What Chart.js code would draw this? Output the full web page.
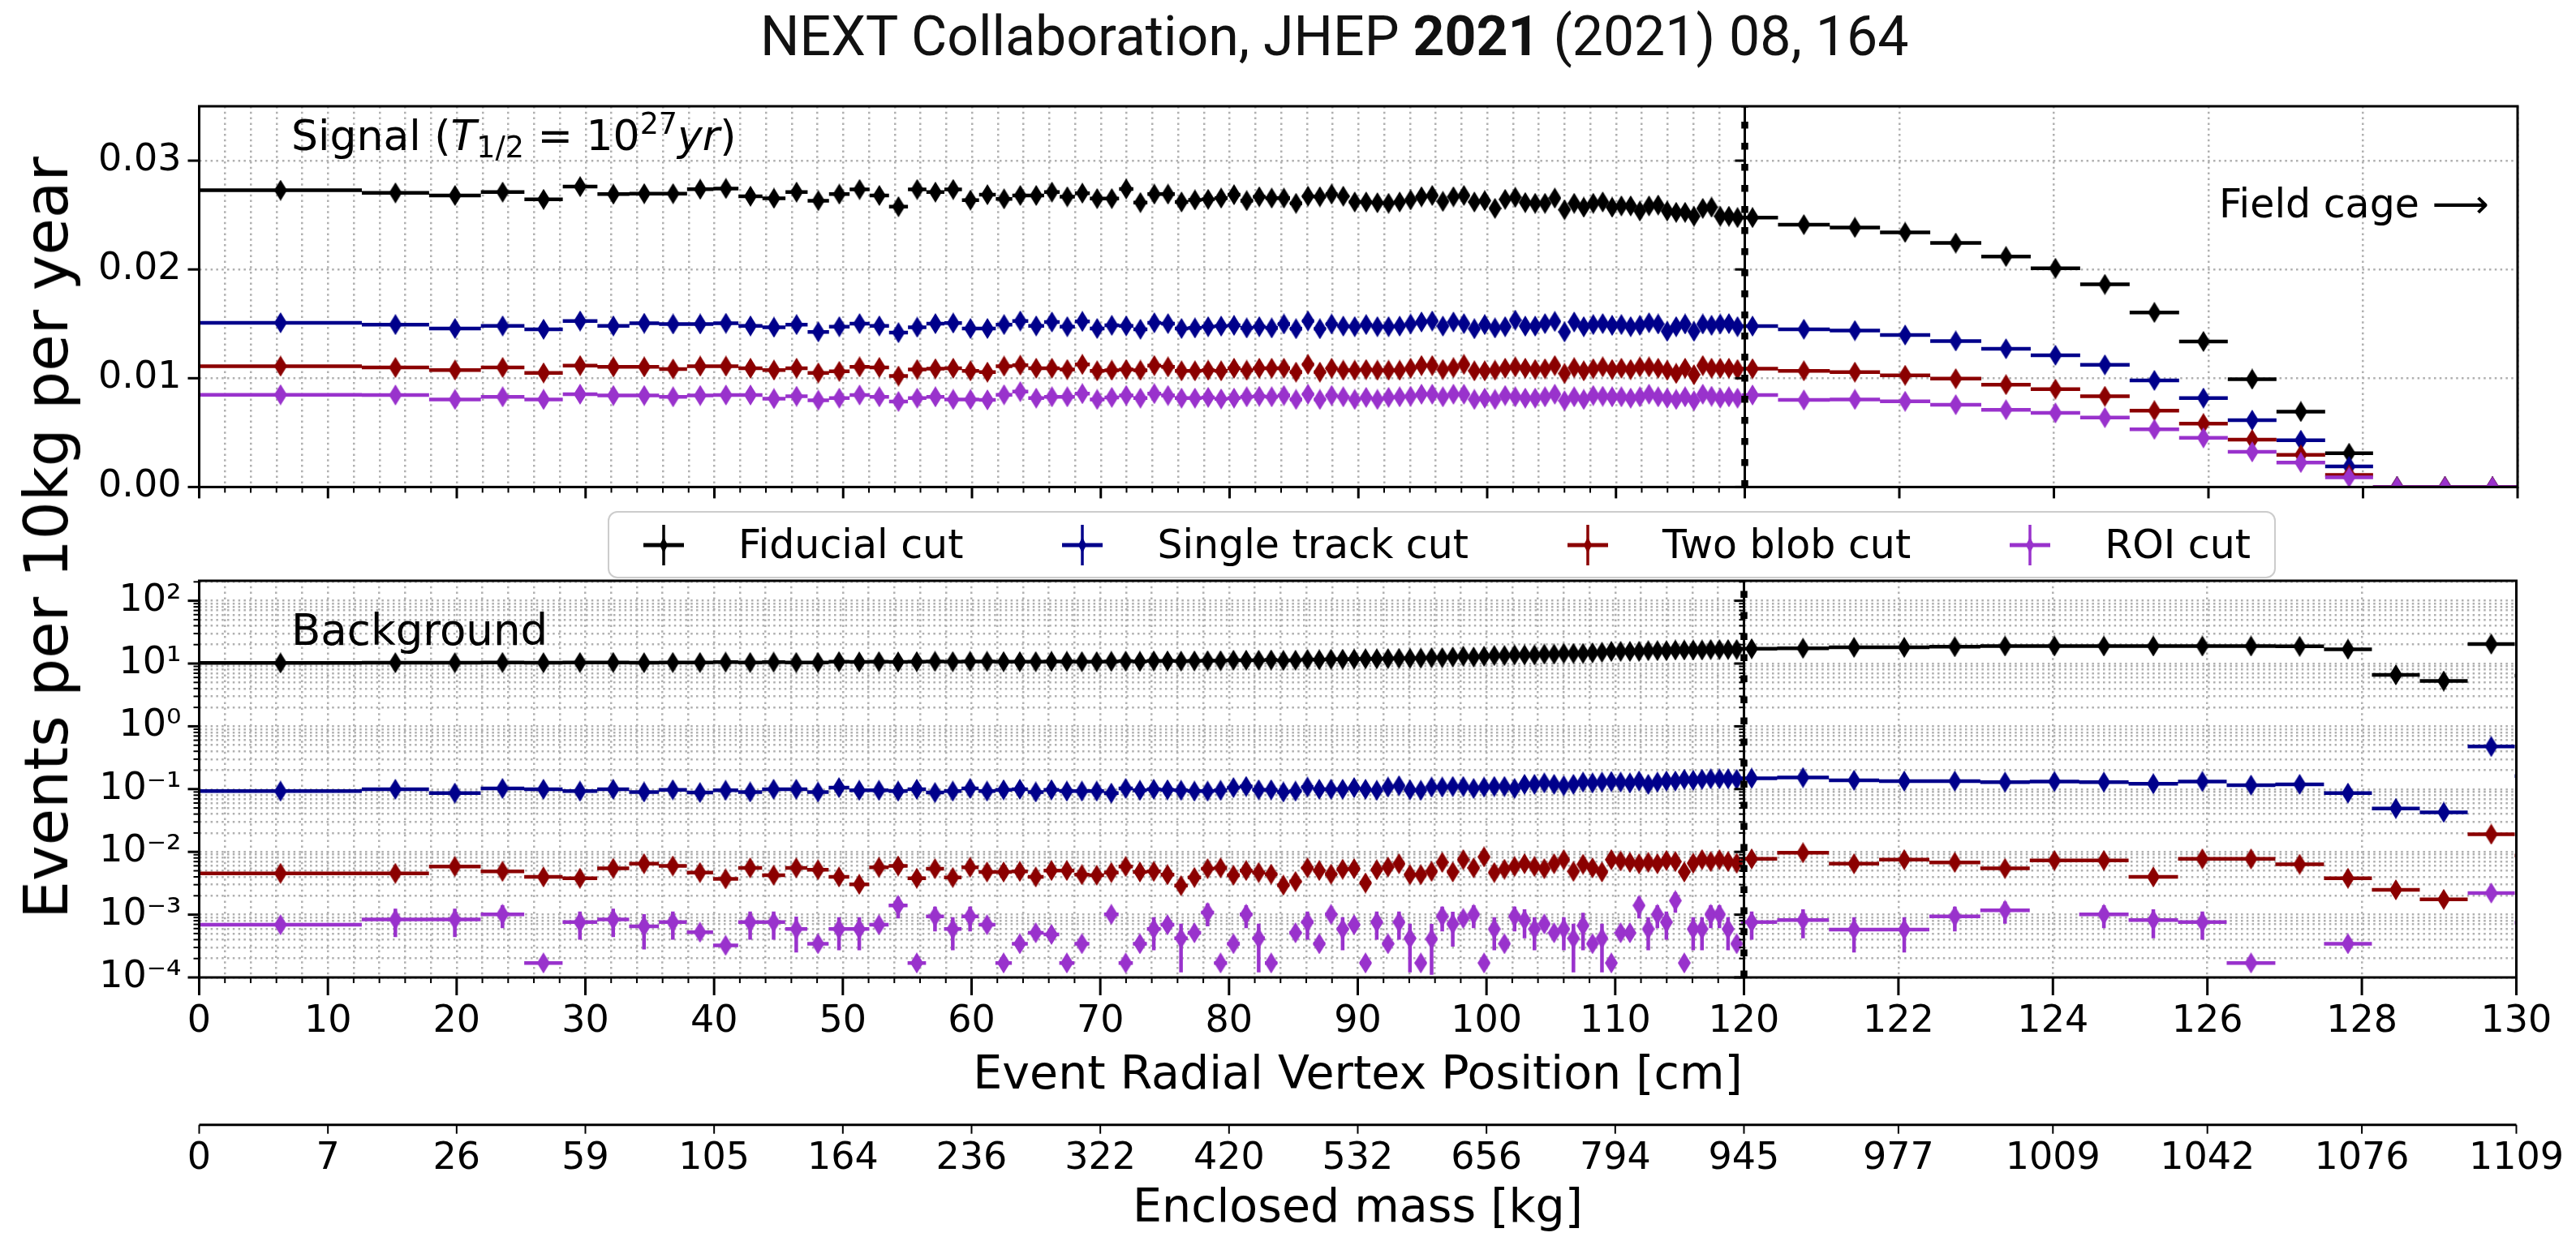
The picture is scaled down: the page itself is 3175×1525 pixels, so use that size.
<!DOCTYPE html>
<html>
<head>
<meta charset="utf-8">
<script src="https://cdn.jsdelivr.net/npm/chart.js@4.4.1/dist/chart.umd.min.js"></script>
<style>
  html, body { margin: 0; padding: 0; background: #fff; }
  body { width: 3175px; height: 1525px; position: relative; overflow: hidden; font-family: 'DejaVu Sans', sans-serif; color: #000; }
  .abs { position: absolute; white-space: nowrap; line-height: 1; }
  canvas.chart { position: absolute; left: 0; }
  #title { left: 937px; top: 11px; font-family: Roboto, sans-serif; font-size: 68px; color: #111; }
  #ylabel { left: 57px; top: 663px; font-size: 74px; transform: translate(-50%, -50%) rotate(-90deg); }
  #sigNote { left: 359px; top: 141px; font-size: 52px; }
  #bkgNote { left: 359px; top: 750px; font-size: 53px; }
  #cageNote { left: 2735px; top: 227px; font-size: 49px; }
  sub { font-size: 0.7em; vertical-align: -0.25em; line-height: 0; }
  sup { font-size: 0.7em; vertical-align: 0.55em; line-height: 0; }
  #legend { position: absolute; left: 749px; top: 630px; width: 2056px; height: 83px; box-sizing: border-box;
            border: 2px solid #cccccc; border-radius: 12px; background: rgba(255,255,255,0.85);
            display: flex; align-items: center; padding-left: 42px; gap: 122px; font-size: 49px; z-index: 5; }
  .item { display: flex; align-items: center; }
  .item canvas { margin-right: 67px; }
</style>
</head>
<body>
<div id="title" class="abs">NEXT Collaboration, JHEP <b>2021</b> (2021) 08, 164</div>
<canvas id="sig" class="chart" width="3175" height="650" style="top:0"></canvas>
<canvas id="bkg" class="chart" width="3175" height="905" style="top:620px"></canvas>
<div id="ylabel" class="abs">Events per 10kg per year</div>
<div id="sigNote" class="abs">Signal (<i>T</i><sub>1/2</sub> = 10<sup>27</sup><i>yr</i>)</div>
<div id="bkgNote" class="abs">Background</div>
<div id="cageNote" class="abs">Field cage &#x27F6;</div>
<div id="legend"></div>
<script>
// radial bin edges in cm (equal enclosed mass per bin)
const binEdges = [0, 12.63, 17.85, 21.87, 25.25, 28.23, 30.92, 33.40, 35.71, 37.88,
  39.92, 41.87, 43.73, 45.52, 47.24, 48.90, 50.50, 52.05, 53.56, 55.03,
  56.46, 57.86, 59.22, 60.55, 61.85, 63.13, 64.37, 65.60, 66.81, 67.99,
  69.15, 70.29, 71.42, 72.53, 73.62, 74.69, 75.75, 76.79, 77.83, 78.84,
  79.85, 80.84, 81.82, 82.79, 83.75, 84.69, 85.63, 86.55, 87.47, 88.38,
  89.27, 90.16, 91.04, 91.91, 92.78, 93.63, 94.48, 95.32, 96.15, 96.97,
  97.79, 98.60, 99.41, 100.21, 101.00, 101.79, 102.57, 103.34, 104.11, 104.87,
  105.63, 106.38, 107.13, 107.87, 108.60, 109.34, 110.06, 110.78, 111.50, 112.21,
  112.92, 113.63, 114.32, 115.02, 115.71, 116.40, 117.08, 117.76, 118.43, 119.10,
  119.77, 120.43, 121.10, 121.75, 122.40, 123.06, 123.70, 124.34, 124.98, 125.62,
  126.25, 126.88, 127.51, 128.13, 128.75, 129.37, 129.98, 130.59];

const breakAt = 120;   // fiducial edge, axis is stretched beyond it
const stretch = 6;     // 1 cm past the edge gets the room of 6 cm before it
const radialTicks = [0, 10, 20, 30, 40, 50, 60, 70, 80, 90, 100, 110, 120, 122, 124, 126, 128, 130];
const massLabels = ['0', '7', '26', '59', '105', '164', '236', '322', '420', '532', '656', '794', '945',
  '977', '1009', '1042', '1076', '1109'];
const sigTicks = [0, 0.01, 0.02, 0.03];
const sigRange = [0, 0.035];
const bkgRange = [1e-4, 208];

const seriesNames = ['Fiducial cut', 'Single track cut', 'Two blob cut', 'ROI cut'];
const seriesColors = ['#000000', '#00008b', '#8b0000', '#9932cc'];

// signal, events per 10 kg per year
const sigFiducial = [0.02728, 0.02704, 0.0268, 0.02711, 0.02644, 0.02761, 0.02692, 0.02697, 0.02697, 0.02737, 0.02744, 0.02673, 0.02654, 0.02711,
  0.02632, 0.02692, 0.02735, 0.0268, 0.02577, 0.02735, 0.02711, 0.02735, 0.02637, 0.02687, 0.02649, 0.0268, 0.0268, 0.02711, 0.02668, 0.02701,
  0.02651, 0.02651, 0.0274, 0.02615, 0.02692, 0.02692, 0.0262, 0.02639, 0.02644, 0.02656, 0.02687, 0.02632, 0.02668, 0.02656, 0.02656, 0.02608,
  0.02673, 0.02668, 0.02692, 0.02673, 0.0262, 0.0262, 0.02613, 0.02608, 0.0262, 0.02639, 0.02668,
  0.0268, 0.02625, 0.02668, 0.0268, 0.0262, 0.02632, 0.02561, 0.02644, 0.02663, 0.02615, 0.02608, 0.02608, 0.02656, 0.02549, 0.02608, 0.02572,
  0.02608, 0.0262, 0.02572, 0.02584, 0.02584, 0.02537, 0.02584, 0.02592, 0.02537, 0.02525, 0.02525, 0.02489, 0.02561, 0.02572, 0.02489, 0.02489, 0.02477,
  0.02477, 0.02412, 0.02386, 0.02341, 0.02243, 0.02119, 0.02011, 0.01863, 0.01605, 0.01338, 0.00991, 0.00693, 0.00311, 0, 0, 0, 0];
const sigSingle = [0.0151, 0.01493, 0.01457, 0.01481, 0.0145, 0.01526, 0.01481, 0.01505, 0.01498, 0.01498, 0.01505, 0.01481, 0.01469, 0.01493,
  0.01426, 0.01474, 0.01502, 0.01481, 0.01419, 0.01469, 0.01502, 0.01507, 0.01457, 0.01457, 0.01493, 0.01526, 0.01481, 0.01517, 0.01474, 0.01522,
  0.01457, 0.01486, 0.01481, 0.0145, 0.0151, 0.01502, 0.01457, 0.01462, 0.01474, 0.01479, 0.01486, 0.01462, 0.01474, 0.01462, 0.01498, 0.01455,
  0.01526, 0.01455, 0.01498, 0.01479, 0.01474, 0.01493, 0.01474, 0.01474, 0.01479, 0.01498, 0.01517,
  0.01526, 0.01479, 0.01517, 0.01502, 0.01455, 0.01493, 0.01462, 0.01474, 0.01534, 0.01479, 0.01479, 0.01502, 0.01522, 0.01426, 0.01517, 0.01474,
  0.01493, 0.01502, 0.01486, 0.01493, 0.01474, 0.01486, 0.0151, 0.01498, 0.01431, 0.01474, 0.01498, 0.01431, 0.01498, 0.01486, 0.01498, 0.01502, 0.01474,
  0.01479, 0.0145, 0.01438, 0.01397, 0.01342, 0.01271, 0.01211, 0.01123, 0.0098, 0.00818, 0.00614, 0.0043, 0.00189, 0, 0, 0, 0];
const sigBlob = [0.01111, 0.01099, 0.01075, 0.01099, 0.01049, 0.01116, 0.01104, 0.01104, 0.01085, 0.01111, 0.01111, 0.01092, 0.01075, 0.01092,
  0.01049, 0.01063, 0.01104, 0.01099, 0.0102, 0.0108, 0.01087, 0.01092, 0.01068, 0.01056, 0.01111, 0.0112, 0.01092, 0.01092, 0.0108, 0.01127,
  0.01068, 0.01073, 0.0108, 0.01073, 0.01116, 0.01104, 0.01068, 0.01068, 0.01073, 0.01068, 0.01092, 0.01073, 0.01092, 0.01092, 0.01092, 0.01056,
  0.01127, 0.01056, 0.01092, 0.01073, 0.01073, 0.0108, 0.01073, 0.01073, 0.01073, 0.01092, 0.01116,
  0.01116, 0.0108, 0.01097, 0.01127, 0.01068, 0.01068, 0.01073, 0.01092, 0.01104, 0.01092, 0.0108, 0.01087, 0.01116, 0.01044, 0.01097, 0.01068,
  0.01087, 0.01104, 0.0108, 0.01092, 0.0108, 0.01104, 0.01104, 0.01092, 0.01073, 0.01044, 0.01092, 0.01032, 0.01116, 0.01092, 0.01092, 0.01092, 0.0108,
  0.01087, 0.01068, 0.01056, 0.01027, 0.00996, 0.00941, 0.009, 0.00834, 0.00702, 0.00583, 0.00435, 0.00296, 0.00112, 0, 0, 0, 0];
const sigRoi = [0.00848, 0.00846, 0.00805, 0.00829, 0.00805, 0.00853, 0.00841, 0.00841, 0.00829, 0.00841, 0.00846, 0.00846, 0.00812, 0.00834,
  0.00798, 0.00817, 0.00846, 0.00829, 0.00786, 0.00817, 0.00829, 0.00805, 0.00805, 0.00801, 0.00848, 0.00877, 0.00817, 0.00829, 0.00829, 0.00858,
  0.00805, 0.00824, 0.00841, 0.00817, 0.00858, 0.00841, 0.00817, 0.00817, 0.00824, 0.0081, 0.00817, 0.00829, 0.00834, 0.00829, 0.00841, 0.00805,
  0.00853, 0.00805, 0.00841, 0.00829, 0.00805, 0.00824, 0.00805, 0.00824, 0.00829, 0.00834, 0.00853,
  0.00853, 0.00829, 0.00853, 0.00853, 0.00805, 0.00817, 0.00805, 0.00841, 0.00829, 0.00817, 0.00817, 0.00829, 0.00853, 0.00793, 0.00829, 0.00805,
  0.00841, 0.00834, 0.00829, 0.00829, 0.00817, 0.00829, 0.00853, 0.00829, 0.00817, 0.00805, 0.00829, 0.00793, 0.00853, 0.00834, 0.00817, 0.00829, 0.00817,
  0.00846, 0.008, 0.00805, 0.00788, 0.00757, 0.0071, 0.00681, 0.00638, 0.0053, 0.00452, 0.00323, 0.00225, 0.00089, 0, 0, 0, 0];

// background, events per 10 kg per year (null = no entry)
const bkgFiducial = [10.2, 10.3, 10.3, 10.4, 10.3, 10.4, 10.4, 10.3, 10.4, 10.4, 10.5, 10.4, 10.5, 10.4,
  10.4, 10.7, 10.6, 10.7, 10.6, 10.7, 10.8, 10.7, 10.8, 10.8, 10.7, 10.7, 10.7, 10.8, 10.8, 10.7, 10.7, 10.8, 10.9, 10.8,
  11.0, 11.0, 10.9, 11.0, 11.1, 11.1, 11.3, 11.3, 11.3, 11.4, 11.2, 11.3, 11.6, 11.5, 11.7, 11.7, 11.8, 11.9, 11.9, 12.0, 12.1, 12.1, 12.2,
  12.4, 12.4, 12.7, 13.1, 12.7, 13.1, 13.4, 13.4, 13.7, 13.7, 13.7, 14.1, 14.1, 14.5, 14.5, 14.5, 14.8, 15.1, 15.6, 15.6, 15.6, 15.6,
  16.0, 16.0, 16.0, 16.4, 16.4, 16.4, 16.4, 16.7, 16.7, 16.7, 16.7,
  17.2, 17.5, 18.1, 18.1, 18.5, 19.0, 19.0, 19.0, 19.0, 19.0, 19.0, 18.8, 16.9, 6.6, 5.26, 20.4, 6.4];
const bkgSingle = [0.0927, 0.0993, 0.0864, 0.1024, 0.0993, 0.0927, 0.0993, 0.0899, 0.0975, 0.0881, 0.0955, 0.0899, 0.0993, 0.0993,
  0.0899, 0.1057, 0.0955, 0.0955, 0.0927, 0.0993, 0.0881, 0.0927, 0.1024, 0.0927, 0.0975, 0.0993, 0.0899, 0.0975, 0.0927, 0.0927,
  0.0927, 0.0863, 0.1024, 0.0955, 0.0993, 0.0975, 0.0955, 0.0927, 0.0927, 0.0955, 0.1057, 0.110, 0.0975, 0.0975, 0.0899, 0.0927,
  0.1077, 0.0993, 0.0993, 0.0993, 0.1057, 0.0993, 0.0955, 0.1077, 0.1132, 0.0975, 0.0955,
  0.1077, 0.1077, 0.110, 0.110, 0.1024, 0.1077, 0.110, 0.110, 0.1024, 0.119, 0.119, 0.1253, 0.119, 0.1132, 0.119, 0.129,
  0.1253, 0.129, 0.1318, 0.129, 0.1253, 0.1345, 0.119, 0.129, 0.1345, 0.1345, 0.1427, 0.1384, 0.1427, 0.1456, 0.1456, 0.1456, 0.1427,
  0.1486, 0.153, 0.138, 0.134, 0.134, 0.129, 0.132, 0.129, 0.1216, 0.132, 0.1156, 0.119, 0.0863, 0.0492, 0.0427, 0.476, 0.161];
const bkgBlob = [0.00455, 0.00455, 0.00585, 0.00489, 0.00399, 0.0038, 0.00546, 0.00648, 0.00597, 0.00469, 0.00372, 0.00556, 0.00424, 0.00556,
  0.00519, 0.00399, 0.00304, 0.00568, 0.00597, 0.0038, 0.0054, 0.00391, 0.00568, 0.00479, 0.00479, 0.00489, 0.00399, 0.00504, 0.00504, 0.00433,
  0.00424, 0.00469, 0.00585, 0.00479, 0.00489, 0.00433, 0.0029, 0.00391, 0.0054, 0.00556, 0.00424, 0.00504, 0.00469, 0.00442,
  0.00295, 0.00337, 0.00556, 0.00504, 0.00442, 0.00529, 0.0054, 0.0032, 0.00519, 0.00573, 0.00647, 0.00433, 0.00433,
  0.00489, 0.0068, 0.00479, 0.00752, 0.00556, 0.00832, 0.00469, 0.00529, 0.00585, 0.00647, 0.00585, 0.0054, 0.00647, 0.00752, 0.00489, 0.00634,
  0.00556, 0.00479, 0.00752, 0.00715, 0.0068, 0.00647, 0.0068, 0.00647, 0.0073, 0.00701, 0.00479, 0.00659, 0.00752, 0.00701, 0.00752, 0.00701, 0.00659,
  0.00774, 0.00966, 0.00647, 0.00752, 0.0068, 0.00545, 0.0073, 0.0073, 0.00399, 0.00774, 0.00774, 0.00634, 0.0038, 0.00249, 0.00175, 0.0191, 0.00875];
const bkgRoi = [0.00069, 0.00084, 0.00084, 0.00101, 0.00017, 0.00076, 0.00084, 0.00065, 0.00076, 0.000525, 0.000324, 0.00076, 0.00076, 0.00059,
  0.000344, 0.00059, 0.00059, 0.00069, 0.0014, 0.00017, 0.00094, 0.00059, 0.00094, 0.00069,
  0.00017, 0.000344, 0.000514, 0.000484, 0.00017, 0.000344, null, 0.00101, 0.00017, 0.000344,
  0.00059, 0.00069, 0.00042, 0.000514, 0.00108, 0.00017, 0.000344, 0.00101, 0.00042, 0.00017,
  null, 0.000514, 0.00076, 0.000344, 0.00101, 0.00059, 0.00069, 0.00017, 0.00076, 0.000344, 0.00076, 0.00042, 0.00017,
  0.00041, 0.00094, 0.00071, 0.00087, 0.00101, 0.00017, 0.00059, 0.000344, 0.00094, 0.00082, 0.00059, 0.00071, 0.000514, 0.00059, 0.00042, 0.00067,
  0.000344, 0.00042, 0.00017, 0.000514, 0.000514, 0.0014, 0.00059, 0.00101, 0.00076, 0.00167, 0.00017, 0.00059, 0.00059, 0.00101, 0.00101, 0.00059, 0.000344,
  0.00076, 0.00082, 0.00058, 0.00058, 0.00094, 0.00117, null, 0.00101, 0.00082, 0.00076, 0.00017, null, 0.000344, null, null, 0.00221, 0.000747];
const bkgRoiErr = [0, 0.0004, 0.0004, 0.0004, 0, 0.00036, 0.0004, 0.00037, 0.00036, 0, 0, 0.00036, 0.00036, 0.00034,
  0, 0.00032, 0.00032, 0, 0.00053, 0, 0.0004, 0.00032, 0.0004, 0,
  0, 0, 0, 0, 0, 0, 0, 0, 0, 0,
  0.00032, 0, 0.0003, 0, 0.00043, 0, 0, 0.0004, 0.0003, 0,
  0, 0, 0.00036, 0, 0, 0.00032, 0, 0, 0.00036, 0, 0.00036, 0.0003, 0,
  0.0003, 0.0004, 0.0004, 0, 0.0004, 0, 0.00032, 0, 0.0004, 0.0004, 0.00032, 0, 0, 0.00032, 0.0003, 0.0004,
  0, 0.0003, 0, 0, 0, 0.00053, 0.00032, 0.0004, 0.00036, 0.0006, 0, 0.00032, 0.00032, 0.0004, 0.0004, 0.00032, 0,
  0.00036, 0.0004, 0.00033, 0.00033, 0.0004, 0.00045, 0, 0.0004, 0.0004, 0.00036, 0, 0, 0, 0, 0, 0, 0];

// ---- radial axis that is linear up to breakAt and stretched after it
const warp = r => r <= breakAt ? r : breakAt + stretch * (r - breakAt);
const unwarp = u => u <= breakAt ? u : breakAt + (u - breakAt) / stretch;
const LinearScale = Chart.registry.getScale('linear');
class BrokenScale extends LinearScale {
  getPixelForValue(v) {
    if (v === null || v === undefined) return NaN;
    const a = warp(this.min), b = warp(this.max);
    return this.getPixelForDecimal((warp(v) - a) / (b - a));
  }
  getValueForPixel(p) {
    const a = warp(this.min), b = warp(this.max);
    return unwarp(a + this.getDecimalForPixel(p) * (b - a));
  }
}
BrokenScale.id = 'broken';
BrokenScale.defaults = {};
Chart.register(BrokenScale);

Chart.defaults.font.family = "'DejaVu Sans', sans-serif";
Chart.defaults.font.size = 46;
Chart.defaults.color = '#000';

const gridColor = '#b0b0b0';
const gridDash = [2.5, 4.3];
const supMap = {'-': '\u207B', '0': '\u2070', '1': '\u00B9', '2': '\u00B2', '3': '\u00B3', '4': '\u2074',
  '5': '\u2075', '6': '\u2076', '7': '\u2077', '8': '\u2078', '9': '\u2079'};
const sup = n => String(n).split('').map(c => supMap[c]).join('');

function diamond(color, w, h) {
  const c = document.createElement('canvas');
  c.width = w; c.height = h;
  const g = c.getContext('2d');
  g.fillStyle = color;
  g.beginPath();
  g.moveTo(w / 2, 0); g.lineTo(w, h / 2); g.lineTo(w / 2, h); g.lineTo(0, h / 2);
  g.closePath(); g.fill();
  return c;
}

function lineSet(data, color, width, order, dash) {
  return { type: 'line', data: data, borderColor: color, borderWidth: width, borderDash: dash || [],
    borderCapStyle: 'butt', pointRadius: 0, fill: false, tension: 0, spanGaps: false, clip: 0, order: order };
}

function buildPanel(series, errs, yRange) {
  const sets = [];
  series.forEach((values, s) => {
    const color = seriesColors[s];
    const bars = [], marks = [], vbars = [];
    values.forEach((v, i) => {
      if (v === null) return;
      const lo = binEdges[i], hi = binEdges[i + 1], c = (lo + hi) / 2;
      bars.push({x: lo, y: v}, {x: hi, y: v}, {x: hi, y: null});
      marks.push({x: c, y: v});
      const e = errs[s] ? errs[s][i] : 0;
      if (e) vbars.push({x: c, y: v - e}, {x: c, y: v + e}, {x: c, y: null});
    });
    const base = (3 - s) * 3;
    sets.push(lineSet(bars, color, 4.5, base + 2));
    if (vbars.length) sets.push(lineSet(vbars, color, 4.5, base + 1));
    sets.push({ type: 'line', data: marks, showLine: false, pointStyle: diamond(color, 16, 26),
      pointRadius: 6, clip: 0, order: base });
  });
  // dashed marker of the fiducial edge
  sets.push(lineSet([{x: breakAt, y: yRange[0]}, {x: breakAt, y: yRange[1]}], '#000', 8.5, -1, [8.5, 17.5]));
  return sets;
}

const gridValues = [];
for (let r = 0; r <= 130; r += 2) gridValues.push(r);

function radialAxis(extra) {
  return Object.assign({
    type: 'broken', min: 0, max: 130, position: 'bottom',
    afterBuildTicks: s => { s.ticks = gridValues.map(v => ({value: v, big: radialTicks.includes(v)})); },
    grid: { color: gridColor, lineWidth: 2.5, drawTicks: false },
    border: { display: false, dash: gridDash },
    ticks: { autoSkip: false, maxRotation: 0, padding: 27,
      callback: v => radialTicks.includes(v) ? String(v) : '' }
  }, extra);
}

// frame, tick marks and the second spine at the break
function framePlugin(spec) {
  return {
    id: 'frame',
    afterDraw(chart) {
      const {ctx, chartArea: a, scales} = chart;
      const xs = scales.x, ys = scales.y;
      const xb = xs.getPixelForValue(breakAt);
      const seg = (x1, y1, x2, y2, w) => {
        ctx.lineWidth = w; ctx.beginPath(); ctx.moveTo(x1, y1); ctx.lineTo(x2, y2); ctx.stroke();
      };
      ctx.save();
      ctx.strokeStyle = '#000';
      ctx.lineCap = 'butt';
      ctx.lineWidth = 3;
      ctx.strokeRect(a.left, a.top, a.right - a.left, a.bottom - a.top);
      seg(xb, a.top, xb, a.bottom, 3);
      xs.ticks.forEach(t => {
        const p = xs.getPixelForValue(t.value);
        seg(p, a.bottom, p, a.bottom + (t.big ? spec.xMajor : spec.xMinor), t.big ? 3 : 2);
      });
      ys.ticks.forEach(t => {
        const p = ys.getPixelForValue(t.value);
        const big = t.big !== false;
        seg(a.left, p, a.left - (big ? spec.yMajor : spec.yMinor), p, big ? 3 : 2);
        seg(xb, p, xb - (big ? 12 : 6), p, big ? 3 : 2);
      });
      const ms = scales.m;
      if (ms) {
        seg(ms.left, ms.top, ms.right, ms.top, 3);
        ms.ticks.forEach(t => {
          const p = ms.getPixelForValue(t.value);
          seg(p, ms.top, p, ms.top + 11, 2);
        });
      }
      ctx.restore();
    }
  };
}

const baseOptions = {
  responsive: false, devicePixelRatio: 1, animation: false, events: [],
  plugins: { legend: { display: false }, tooltip: { enabled: false } }
};

new Chart(document.getElementById('sig'), {
  type: 'line',
  data: { datasets: buildPanel([sigFiducial, sigSingle, sigBlob, sigRoi], [], sigRange) },
  options: Object.assign({}, baseOptions, {
    layout: { padding: { left: 45, right: 72, top: 131, bottom: 0 } },
    scales: {
      x: radialAxis({ ticks: { display: false }, afterFit: s => { s.height = 31; } }),
      y: {
        type: 'linear', min: sigRange[0], max: sigRange[1],
        afterBuildTicks: s => { s.ticks = sigTicks.map(v => ({value: v})); },
        afterFit: s => { s.width = 200.5; },
        grid: { color: gridColor, lineWidth: 2.5, drawTicks: false },
        border: { display: false, dash: gridDash },
        ticks: { padding: 22, callback: v => v.toFixed(2) }
      }
    }
  }),
  plugins: [framePlugin({ xMajor: 14, xMinor: 7, yMajor: 14, yMinor: 7 })]
});

new Chart(document.getElementById('bkg'), {
  type: 'line',
  data: { datasets: buildPanel([bkgFiducial, bkgSingle, bkgBlob, bkgRoi], [null, null, null, bkgRoiErr], bkgRange) },
  options: Object.assign({}, baseOptions, {
    layout: { padding: { left: 45, right: 72, top: 96, bottom: 0 } },
    scales: {
      x: radialAxis({
        weight: 0,
        afterFit: s => { s.height = 181.7; },
        title: { display: true, text: 'Event Radial Vertex Position [cm]', font: { size: 57 }, padding: { top: 0, bottom: 25 } }
      }),
      m: {
        type: 'broken', min: 0, max: 130, position: 'bottom', weight: 1,
        afterBuildTicks: s => { s.ticks = radialTicks.map(v => ({value: v})); },
        afterFit: s => { s.height = 138.3; },
        grid: { display: false, drawTicks: false },
        border: { display: false },
        ticks: { autoSkip: false, maxRotation: 0, padding: 15, callback: (v, i) => massLabels[i] },
        title: { display: true, text: 'Enclosed mass [kg]', font: { size: 57 }, padding: { top: 0, bottom: 0 } }
      },
      y: {
        type: 'logarithmic', min: bkgRange[0], max: bkgRange[1],
        afterBuildTicks: s => {
          const t = [];
          for (let e = -4; e <= 2; e++) {
            for (let m = 1; m <= 9; m++) {
              const v = m * Math.pow(10, e);
              if (v <= s.max) t.push({value: v, big: m === 1, exp: e});
            }
          }
          s.ticks = t;
        },
        afterFit: s => { s.width = 200.5; },
        grid: { color: gridColor, lineWidth: 2.5, drawTicks: false },
        border: { display: false, dash: gridDash },
        ticks: { autoSkip: false, padding: 22, callback: (v, i, ticks) => ticks[i].big ? '10' + sup(ticks[i].exp) : '' }
      }
    }
  }),
  plugins: [framePlugin({ xMajor: 22, xMinor: 7, yMajor: 14, yMinor: 7 })]
});

// legend with error-bar handles
const legend = document.getElementById('legend');
seriesNames.forEach((name, i) => {
  const item = document.createElement('div');
  item.className = 'item';
  const ic = document.createElement('canvas');
  ic.width = 50; ic.height = 50;
  const g = ic.getContext('2d');
  g.strokeStyle = seriesColors[i];
  g.lineWidth = 5; g.beginPath(); g.moveTo(0, 25); g.lineTo(50, 25); g.stroke();
  g.lineWidth = 3.5; g.beginPath(); g.moveTo(25, 0); g.lineTo(25, 50); g.stroke();
  g.drawImage(diamond(seriesColors[i], 10, 20), 20, 15);
  const label = document.createElement('span');
  label.textContent = name;
  item.appendChild(ic);
  item.appendChild(label);
  legend.appendChild(item);
});
</script>
</body>
</html>
